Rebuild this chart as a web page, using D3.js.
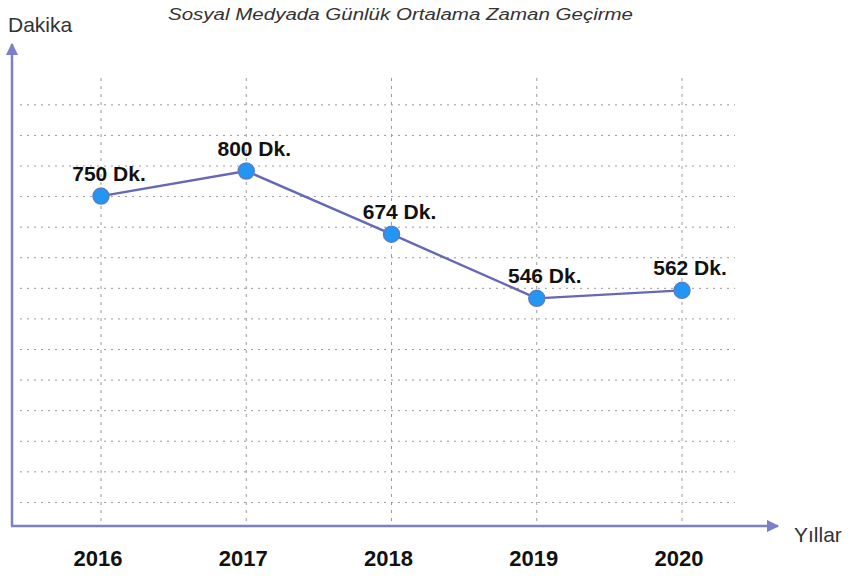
<!DOCTYPE html>
<html>
<head>
<meta charset="utf-8">
<script src="https://cdn.jsdelivr.net/npm/d3@7"></script>
<style>
  html, body { margin: 0; padding: 0; background: #ffffff; }
  svg { display: block; }
</style>
</head>
<body>
<svg id="chart" width="851" height="582"></svg>
<script>
const years = ["2016", "2017", "2018", "2019", "2020"];
const minutes = [750, 800, 674, 546, 562];
const valueLabels = ["750 Dk.", "800 Dk.", "674 Dk.", "546 Dk.", "562 Dk."];
const gridValues = [139, 200, 261, 322, 383, 444, 505, 566, 627, 688, 749, 810, 871, 932];
const titleText = "Sosyal Medyada Günlük Ortalama Zaman Geçirme";
const yAxisTitle = "Dakika";
const xAxisTitle = "Yıllar";

const svg = d3.select("#chart");
const originX = 12, originY = 526;
const font = "Liberation Sans, Arial, sans-serif";

const x = d3.scalePoint().domain(years).range([101, 682]);
const y = d3.scaleLinear().domain([92, 800]).range([originY, 171]);

const defs = svg.append("defs");
defs.append("marker")
  .attr("id", "arrow")
  .attr("viewBox", "0 0 10 10")
  .attr("refX", 9).attr("refY", 5)
  .attr("markerWidth", 5).attr("markerHeight", 5)
  .attr("markerUnits", "strokeWidth")
  .attr("orient", "auto")
  .append("path").attr("d", "M0,0 L10,5 L0,10 z").attr("fill", "#7b80c9");

// Horizontal dashed gridlines
svg.append("g").selectAll("line").data(gridValues).join("line")
  .attr("x1", 20).attr("x2", 735)
  .attr("y1", d => y(d)).attr("y2", d => y(d))
  .attr("stroke", "#9a9a9a").attr("stroke-width", 1)
  .attr("stroke-dasharray", "2,5");

// Vertical dashed gridlines
svg.append("g").selectAll("line").data(years).join("line")
  .attr("x1", d => x(d)).attr("x2", d => x(d))
  .attr("y1", 78).attr("y2", originY - 4)
  .attr("stroke", "#9a9a9a").attr("stroke-width", 1)
  .attr("stroke-dasharray", "3,5");

// Axes with arrows
svg.append("line")
  .attr("x1", originX).attr("y1", originY).attr("x2", originX).attr("y2", 44)
  .attr("stroke", "#7b80c9").attr("stroke-width", 2.5)
  .attr("marker-end", "url(#arrow)");
svg.append("line")
  .attr("x1", originX - 1).attr("y1", originY).attr("x2", 778).attr("y2", originY)
  .attr("stroke", "#7b80c9").attr("stroke-width", 2.5)
  .attr("marker-end", "url(#arrow)");

// Line
const pts = years.map((yr, i) => ({ yr, v: minutes[i], label: valueLabels[i] }));
svg.append("path").datum(pts)
  .attr("fill", "none").attr("stroke", "#6568b5").attr("stroke-width", 2.4)
  .attr("d", d3.line().x(d => x(d.yr)).y(d => y(d.v)));

// Points
svg.append("g").selectAll("circle").data(pts).join("circle")
  .attr("cx", d => x(d.yr)).attr("cy", d => y(d.v)).attr("r", 8)
  .attr("fill", "#2196f3").attr("stroke", "#5a7cc8").attr("stroke-width", 1.5);

// Value labels
svg.append("g").selectAll("text").data(pts).join("text")
  .attr("x", d => x(d.yr) + 8).attr("y", d => y(d.v) - 15)
  .attr("text-anchor", "middle")
  .attr("font-family", font)
  .attr("font-weight", "bold").attr("font-size", 21).attr("fill", "#111")
  .text(d => d.label);

// Year labels
svg.append("g").selectAll("text").data(years).join("text")
  .attr("x", d => x(d) - 3).attr("y", 566)
  .attr("text-anchor", "middle")
  .attr("font-family", font)
  .attr("font-weight", "bold").attr("font-size", 22).attr("fill", "#111")
  .text(d => d);

// Titles
svg.append("text").attr("x", 168).attr("y", 20)
  .attr("font-family", font)
  .attr("font-style", "italic").attr("font-size", 16).attr("fill", "#333")
  .attr("textLength", 465).attr("lengthAdjust", "spacingAndGlyphs")
  .text(titleText);
svg.append("text").attr("x", 8).attr("y", 32)
  .attr("font-family", font)
  .attr("font-size", 21).attr("fill", "#333")
  .text(yAxisTitle);
svg.append("text").attr("x", 794).attr("y", 542)
  .attr("font-family", font)
  .attr("font-size", 21).attr("fill", "#333")
  .text(xAxisTitle);
</script>
</body>
</html>
